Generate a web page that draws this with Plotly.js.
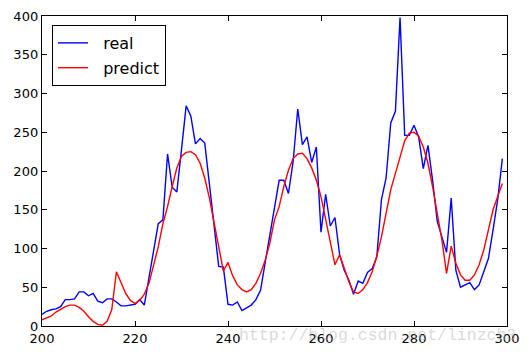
<!DOCTYPE html>
<html>
<head>
<meta charset="utf-8">
<script src="https://cdn.plot.ly/plotly-3.0.1.min.js"></script>
<style>html,body{margin:0;padding:0;background:#fff;}#chart{width:530px;height:356px;}</style>
</head>
<body>
<div id="chart"></div>
<script>
const xStart = 200;
const realValues = [
  15, 19, 21, 22, 25, 34, 34, 35, 44, 44,
  39, 42, 32, 30, 35, 35, 31, 26, 26, 27,
  28, 34, 27, 62, 97, 132, 137, 222, 179, 173,
  228, 284, 271, 235, 242, 236, 183, 129, 77, 76,
  28, 27, 31, 20, 23, 27, 34, 46, 82, 117,
  152, 188, 188, 171, 212, 280, 234, 244, 211, 231,
  121, 170, 129, 140, 92, 72, 59, 41, 58, 55,
  69, 74, 89, 163, 191, 262, 277, 398, 246, 246,
  259, 244, 203, 233, 188, 135, 115, 95, 165, 72,
  50, 53, 56, 47, 53, 70, 87, 124, 163, 216
];
const predictValues = [
  8, 10, 13, 18, 22, 25, 27, 27, 24, 19,
  12, 6, 2, 1, 6, 21, 70, 55, 42, 33,
  29, 33, 41, 55, 77, 102, 132, 154, 180, 204,
  219, 224, 225, 221, 210, 191, 165, 133, 100, 71,
  82, 65, 53, 47, 44, 47, 55, 68, 85, 107,
  137, 154, 180, 201, 216, 222, 223, 216, 204, 188,
  167, 137, 107, 79, 92, 74, 57, 44, 42, 47,
  56, 70, 90, 115, 145, 176, 197, 219, 239, 249,
  250, 245, 231, 210, 180, 145, 111, 68, 103, 81,
  66, 59, 59, 66, 79, 98, 124, 150, 167, 184
];
const seriesNames = ['real', 'predict'];
const xTicks = [200, 220, 240, 260, 280, 300];
const yTicks = [0, 50, 100, 150, 200, 250, 300, 350, 400];
const watermark = 'http://blog.csdn.net/linzch3';

const xs = realValues.map((_, i) => xStart + i);
const pad = '\u00a0\u00a0';

const traces = [
  {x: xs, y: realValues, name: pad + seriesNames[0], legendgroup: 'a', mode: 'lines', line: {color: '#0000ff', width: 1.4}},
  {x: xs, y: predictValues, name: pad + seriesNames[1], legendgroup: 'b', mode: 'lines', line: {color: '#ff0000', width: 1.4}}
];

const axisCommon = {
  showgrid: false, zeroline: false, showline: true, linecolor: '#000', linewidth: 1.2,
  mirror: 'allticks', ticks: 'inside', ticklen: 5, tickwidth: 1, tickcolor: '#000',
  tickfont: {family: 'DejaVu Sans', size: 13, color: '#000'}
};

const layout = {
  width: 530, height: 356,
  margin: {l: 42, r: 23, t: 16, b: 30},
  paper_bgcolor: '#fff', plot_bgcolor: '#fff',
  xaxis: Object.assign({}, axisCommon, {range: [200, 300], tickvals: xTicks, ticktext: xTicks.map(String)}),
  yaxis: Object.assign({}, axisCommon, {range: [0, 400], tickvals: yTicks, ticktext: yTicks.map(String)}),
  showlegend: true,
  legend: {
    x: 0.0215, y: 0.971, xanchor: 'left', yanchor: 'top',
    bgcolor: '#fff', bordercolor: '#000', borderwidth: 1,
    font: {family: 'DejaVu Sans', size: 16, color: '#000'},
    tracegroupgap: 1, itemwidth: 30
  },
  annotations: [{
    text: watermark, xref: 'paper', yref: 'paper', x: 0.419, y: -0.032,
    xanchor: 'left', yanchor: 'middle', showarrow: false,
    font: {family: 'Liberation Mono', size: 16.5, color: 'rgba(170,170,170,0.45)'}
  }]
};

Plotly.newPlot('chart', traces, layout, {displayModeBar: false, staticPlot: true});
</script>
</body>
</html>
